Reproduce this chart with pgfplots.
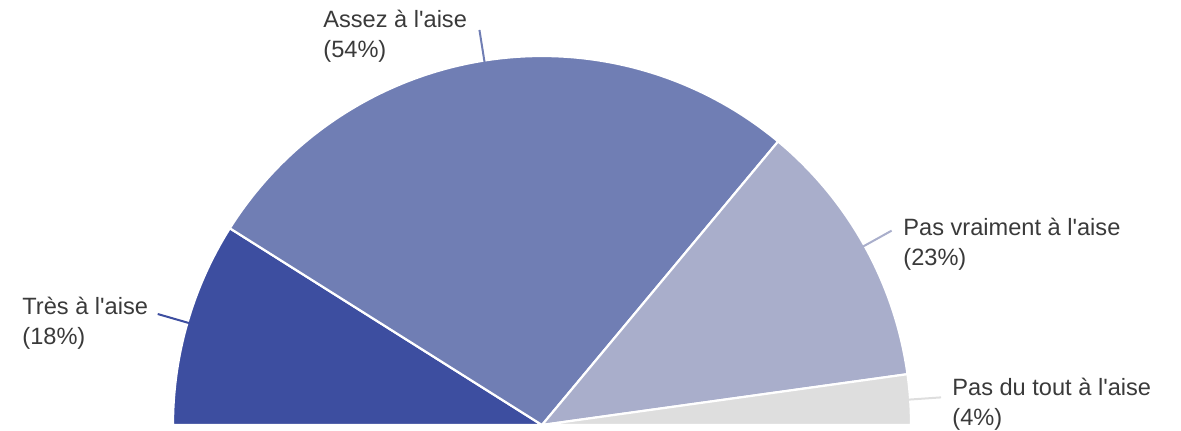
\documentclass[border=0pt]{standalone}
\usepackage{pgfplots}
\pgfplotsset{compat=1.18}
\usepackage{pgfplotstable}
\usepackage{fontspec}
\setmainfont{Liberation Sans}[Ligatures=TeXOff]
\usetikzlibrary{calc}
\definecolor{slice0}{HTML}{3D4EA0}
\definecolor{slice1}{HTML}{707EB4}
\definecolor{slice2}{HTML}{A9AECB}
\definecolor{slice3}{HTML}{DEDEDE}
\definecolor{lab}{HTML}{3A3A3A}
\pgfplotstableread{
pct
17.9
54.2
23.5
4.4
}\piedata
\begin{document}
\begin{tikzpicture}
\begin{axis}[
  scale only axis, width=590.5pt, height=215pt,
  xmin=0, xmax=1181, ymin=0, ymax=430,
  hide axis, clip=false,
]
\path (rel axis cs:0,0) rectangle (rel axis cs:1,1);
\def\cum{0}
\pgfplotsforeachungrouped \i in {0,...,3}{%
  \pgfplotstablegetelem{\i}{pct}\of\piedata
  \pgfmathsetmacro\a{180-1.8*\cum}%
  \pgfmathsetmacro\cumnew{\cum+\pgfplotsretval}%
  \pgfmathsetmacro\b{180-1.8*\cumnew}%
  \pgfmathsetmacro\m{(\a+\b)/2}%
  \edef\temp{%
    \noexpand\fill[slice\i, draw=white, line width=1.1pt, line join=round]
      (axis cs:542,5) -- ++(\a:184.5pt) arc[start angle=\a, end angle=\b, radius=184.5pt] -- cycle;
    \noexpand\draw[slice\i, line width=1pt]
      (\noexpand$(axis cs:542,5)+(\m:183pt)\noexpand$) -- (\noexpand$(axis cs:542,5)+(\m:200pt)\noexpand$);
  }%
  \temp
  \global\let\cum\cumnew
}
\tikzset{lbl/.style={anchor=base west, inner sep=0pt, text=lab, font=\fontsize{11.8pt}{15pt}\selectfont}}
\node[lbl] at (axis cs:323,403) {Assez à l'aise};
\node[lbl] at (axis cs:323,373) {(54\%)};
\node[lbl] at (axis cs:22,116) {Très à l'aise};
\node[lbl] at (axis cs:22,86) {(18\%)};
\node[lbl] at (axis cs:903,195) {Pas vraiment à l'aise};
\node[lbl] at (axis cs:903,165) {(23\%)};
\node[lbl] at (axis cs:952,35) {Pas du tout à l'aise};
\node[lbl] at (axis cs:952,5) {(4\%)};
\end{axis}
\end{tikzpicture}
\end{document}
